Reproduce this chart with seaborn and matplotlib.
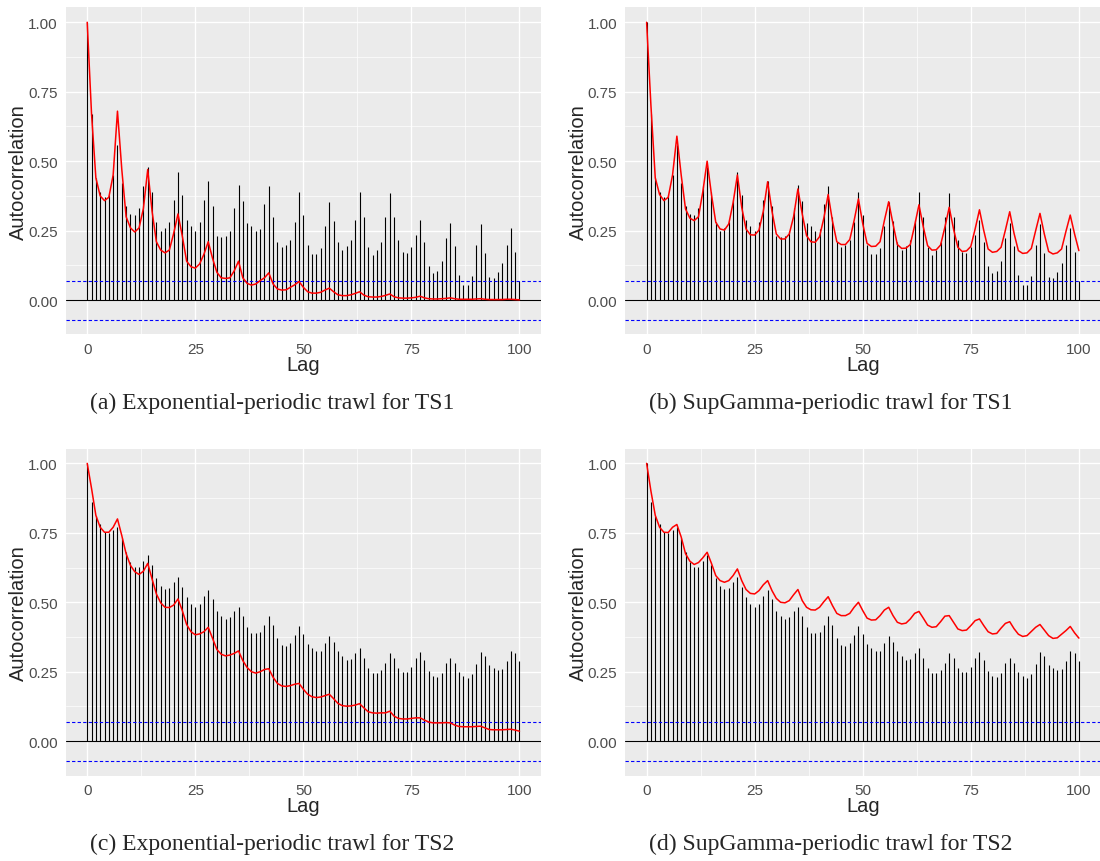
import numpy as np
import pandas as pd
import seaborn as sns
import matplotlib.pyplot as plt

# ACF of the two series, lags 0..100
lags = list(range(101))

acf_ts1 = [1.00, 0.67, 0.44, 0.39, 0.37, 0.38, 0.45, 0.56, 0.42, 0.34,
           0.31, 0.305, 0.33, 0.41, 0.48, 0.39, 0.28, 0.25, 0.26, 0.28,
           0.36, 0.46, 0.38, 0.29, 0.265, 0.25, 0.28, 0.36, 0.43, 0.34,
           0.23, 0.226, 0.23, 0.25, 0.33, 0.415, 0.355, 0.276, 0.267, 0.247,
           0.256, 0.346, 0.41, 0.30, 0.21, 0.19, 0.20, 0.216, 0.28, 0.39,
           0.305, 0.197, 0.166, 0.167, 0.187, 0.268, 0.353, 0.285, 0.208, 0.18,
           0.193, 0.216, 0.288, 0.39, 0.298, 0.19, 0.163, 0.18, 0.21, 0.30,
           0.385, 0.30, 0.216, 0.174, 0.17, 0.19, 0.236, 0.29, 0.21, 0.122,
           0.096, 0.103, 0.14, 0.224, 0.277, 0.193, 0.092, 0.054, 0.054, 0.086,
           0.198, 0.274, 0.17, 0.083, 0.08, 0.10, 0.133, 0.20, 0.258, 0.172,
           0.068]

acf_ts2 = [1.00, 0.86, 0.81, 0.78, 0.753, 0.75, 0.76, 0.77, 0.73, 0.68,
           0.645, 0.627, 0.627, 0.648, 0.67, 0.633, 0.587, 0.558, 0.548, 0.552,
           0.572, 0.59, 0.554, 0.518, 0.494, 0.482, 0.494, 0.524, 0.545, 0.51,
           0.467, 0.45, 0.44, 0.448, 0.47, 0.482, 0.45, 0.412, 0.39, 0.388,
           0.393, 0.42, 0.45, 0.42, 0.373, 0.348, 0.342, 0.355, 0.384, 0.413,
           0.387, 0.35, 0.335, 0.325, 0.325, 0.354, 0.38, 0.357, 0.323, 0.305,
           0.294, 0.295, 0.316, 0.335, 0.30, 0.265, 0.245, 0.245, 0.257, 0.283,
           0.316, 0.30, 0.265, 0.25, 0.248, 0.266, 0.30, 0.32, 0.294, 0.253,
           0.233, 0.23, 0.246, 0.28, 0.30, 0.28, 0.25, 0.233, 0.228, 0.242,
           0.278, 0.32, 0.306, 0.275, 0.263, 0.255, 0.26, 0.29, 0.323, 0.316,
           0.29]

# fitted trawl autocorrelations
fit_exp_ts1 = [1.00, 0.67, 0.44, 0.375, 0.358, 0.37, 0.45, 0.68, 0.47, 0.30,
               0.26, 0.245, 0.26, 0.33, 0.47, 0.32, 0.21, 0.18, 0.17, 0.18,
               0.24, 0.31, 0.23, 0.14, 0.12, 0.115, 0.13, 0.165, 0.21, 0.15,
               0.10, 0.08, 0.078, 0.08, 0.105, 0.14, 0.08, 0.06, 0.054, 0.058,
               0.07, 0.08, 0.098, 0.058, 0.04, 0.036, 0.037, 0.046, 0.055, 0.067,
               0.046, 0.03, 0.025, 0.025, 0.028, 0.036, 0.043, 0.03, 0.019, 0.016,
               0.016, 0.019, 0.024, 0.03, 0.018, 0.012, 0.011, 0.011, 0.013, 0.017,
               0.022, 0.012, 0.008, 0.007, 0.007, 0.008, 0.01, 0.014, 0.008, 0.005,
               0.004, 0.004, 0.005, 0.006, 0.008, 0.005, 0.003, 0.003, 0.003, 0.003,
               0.004, 0.005, 0.003, 0.002, 0.002, 0.002, 0.002, 0.003, 0.003, 0.002,
               0.001]

fit_sg_ts1 = [1.00, 0.70, 0.44, 0.38, 0.358, 0.37, 0.45, 0.59, 0.45, 0.328,
              0.295, 0.286, 0.30, 0.39, 0.50, 0.38, 0.28, 0.256, 0.252, 0.274,
              0.35, 0.45, 0.334, 0.256, 0.235, 0.234, 0.252, 0.32, 0.426, 0.32,
              0.238, 0.22, 0.22, 0.238, 0.30, 0.40, 0.31, 0.232, 0.21, 0.208,
              0.228, 0.295, 0.38, 0.284, 0.21, 0.20, 0.20, 0.218, 0.286, 0.364,
              0.275, 0.204, 0.193, 0.194, 0.21, 0.286, 0.354, 0.274, 0.20, 0.186,
              0.187, 0.20, 0.268, 0.343, 0.264, 0.196, 0.18, 0.181, 0.198, 0.262,
              0.334, 0.256, 0.19, 0.175, 0.177, 0.193, 0.256, 0.325, 0.25, 0.184,
              0.172, 0.175, 0.19, 0.252, 0.318, 0.24, 0.178, 0.168, 0.17, 0.186,
              0.25, 0.312, 0.238, 0.175, 0.166, 0.17, 0.184, 0.247, 0.306, 0.238,
              0.178]

fit_exp_ts2 = [1.00, 0.91, 0.813, 0.77, 0.752, 0.752, 0.77, 0.80, 0.74, 0.675,
               0.633, 0.61, 0.60, 0.612, 0.64, 0.584, 0.53, 0.498, 0.482, 0.481,
               0.49, 0.512, 0.47, 0.42, 0.394, 0.383, 0.386, 0.394, 0.41, 0.37,
               0.33, 0.313, 0.307, 0.31, 0.316, 0.325, 0.29, 0.265, 0.25, 0.245,
               0.25, 0.258, 0.261, 0.23, 0.208, 0.199, 0.197, 0.20, 0.205, 0.208,
               0.187, 0.169, 0.16, 0.157, 0.159, 0.164, 0.169, 0.153, 0.136, 0.128,
               0.126, 0.127, 0.13, 0.135, 0.12, 0.106, 0.102, 0.101, 0.102, 0.102,
               0.108, 0.09, 0.082, 0.08, 0.08, 0.082, 0.084, 0.084, 0.076, 0.069,
               0.066, 0.066, 0.066, 0.067, 0.066, 0.058, 0.053, 0.052, 0.052, 0.052,
               0.053, 0.054, 0.048, 0.042, 0.041, 0.041, 0.041, 0.042, 0.043, 0.04,
               0.036]

fit_sg_ts2 = [1.00, 0.90, 0.813, 0.77, 0.752, 0.751, 0.77, 0.78, 0.735, 0.675,
              0.648, 0.636, 0.643, 0.66, 0.68, 0.64, 0.596, 0.578, 0.572, 0.578,
              0.596, 0.62, 0.578, 0.546, 0.532, 0.53, 0.542, 0.563, 0.578, 0.542,
              0.514, 0.50, 0.498, 0.506, 0.527, 0.546, 0.506, 0.482, 0.473, 0.472,
              0.482, 0.502, 0.52, 0.488, 0.46, 0.452, 0.452, 0.46, 0.482, 0.50,
              0.47, 0.443, 0.436, 0.437, 0.452, 0.472, 0.482, 0.452, 0.428, 0.422,
              0.425, 0.44, 0.46, 0.467, 0.443, 0.418, 0.41, 0.412, 0.43, 0.45,
              0.452, 0.428, 0.404, 0.398, 0.40, 0.416, 0.434, 0.44, 0.416, 0.394,
              0.386, 0.388, 0.407, 0.424, 0.43, 0.405, 0.385, 0.377, 0.38, 0.395,
              0.41, 0.42, 0.40, 0.38, 0.37, 0.372, 0.385, 0.398, 0.413, 0.39,
              0.371]

conf_band = 0.07

captions = ["(a) Exponential-periodic trawl for TS1",
            "(b) SupGamma-periodic trawl for TS1",
            "(c) Exponential-periodic trawl for TS2",
            "(d) SupGamma-periodic trawl for TS2"]

sns.set_theme(style="darkgrid", rc={"axes.facecolor": "#EBEBEB",
                                     "grid.color": "white"})
plt.rcParams['font.family'] = ['Liberation Sans', 'DejaVu Sans']

W, H = 1100, 862
fig = plt.figure(figsize=(W / 100, H / 100), dpi=100)

# (acf, fit, caption, left px, top px, caption centre x)
panels = [
    (acf_ts1, fit_exp_ts1, captions[0], 65.6, 8.4, 272),
    (acf_ts1, fit_sg_ts1, captions[1], 625.0, 8.4, 831),
    (acf_ts2, fit_exp_ts2, captions[2], 65.6, 449.5, 272),
    (acf_ts2, fit_sg_ts2, captions[3], 625.0, 449.5, 831),
]
pw, ph = 475.5, 327

for acf, fit, cap, left, top, cap_x in panels:
    ax = fig.add_axes([left / W, 1 - (top + ph) / H, pw / W, ph / H])
    df = pd.DataFrame({"Lag": lags, "acf": acf, "fit": fit})

    ax.vlines(df["Lag"], 0, df["acf"], color="black", lw=0.8)
    ax.axhline(0, color="black", lw=0.8)
    ax.axhline(conf_band, color="blue", lw=0.8, ls=(0, (3, 2)))
    ax.axhline(-conf_band, color="blue", lw=0.8, ls=(0, (3, 2)))
    sns.lineplot(data=df, x="Lag", y="fit", ax=ax, color="red", lw=1.1)

    ax.set_xlim(-5, 105)
    ax.set_ylim(-0.1235, 1.0535)
    ax.set_xticks([0, 25, 50, 75, 100])
    ax.set_xticks([12.5, 37.5, 62.5, 87.5], minor=True)
    ax.set_yticks([0, 0.25, 0.5, 0.75, 1.0])
    ax.set_yticklabels(["0.00", "0.25", "0.50", "0.75", "1.00"])
    ax.set_yticks([0.125, 0.375, 0.625, 0.875], minor=True)
    ax.grid(which="major", color="white", lw=1.0)
    ax.grid(which="minor", color="white", lw=0.5)
    ax.tick_params(which="major", length=3.5, width=0.8, color="#333333",
                   labelcolor="#4D4D4D", labelsize=11, pad=2)
    ax.tick_params(which="minor", length=0)
    for s in ax.spines.values():
        s.set_visible(False)
    ax.set_xlabel("Lag", fontsize=14.5, labelpad=-1)
    ax.set_ylabel("Autocorrelation", fontsize=14.5, labelpad=0)

    fig.text(cap_x / W, 1 - (top + 395) / H, cap, ha="center", va="center",
             family="Liberation Serif", fontsize=17)

fig.savefig("out.png", dpi=100)
